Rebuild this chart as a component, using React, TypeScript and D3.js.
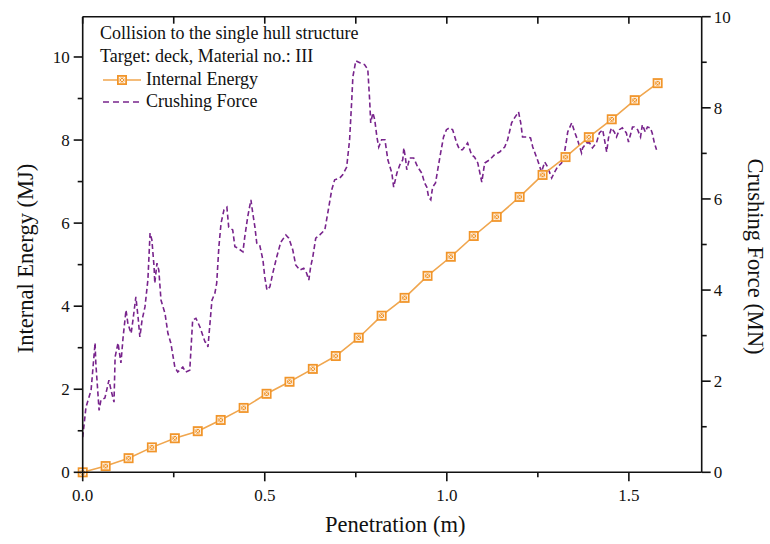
import React from "react";
import { scaleLinear, line } from "d3";

// internal energy (MJ) vs penetration (m) – left axis
const energyX = [0, 0.063, 0.126, 0.19, 0.253, 0.316, 0.379, 0.442, 0.505, 0.568, 0.632, 0.695, 0.758,
  0.821, 0.884, 0.947, 1.011, 1.074, 1.137, 1.2, 1.263, 1.326, 1.39, 1.453, 1.516, 1.579];
const energyY = [0, 0.15, 0.34, 0.6, 0.82, 0.99, 1.26, 1.55, 1.89, 2.18, 2.49, 2.8, 3.24,
  3.77, 4.2, 4.73, 5.19, 5.69, 6.15, 6.63, 7.16, 7.59, 8.07, 8.5, 8.96, 9.37];

// crushing force (MN) vs penetration (m) – right axis
const forceX = [0, 0.009, 0.023, 0.034, 0.036, 0.045, 0.05, 0.061, 0.072, 0.078, 0.086, 0.089, 0.097,
  0.105, 0.111, 0.119, 0.124, 0.13, 0.133, 0.138, 0.146, 0.152, 0.157, 0.163, 0.171, 0.179, 0.185,
  0.19, 0.196, 0.198, 0.204, 0.209, 0.215, 0.226, 0.234, 0.242, 0.253, 0.261, 0.275, 0.283, 0.294,
  0.302, 0.311, 0.322, 0.336, 0.341, 0.344, 0.355, 0.363, 0.368, 0.374, 0.38, 0.388, 0.396, 0.401,
  0.412, 0.418, 0.426, 0.44, 0.445, 0.453, 0.462, 0.467, 0.473, 0.478, 0.486, 0.495, 0.5, 0.506,
  0.514, 0.522, 0.533, 0.544, 0.558, 0.566, 0.577, 0.585, 0.596, 0.607, 0.615, 0.621, 0.626, 0.632,
  0.64, 0.651, 0.665, 0.673, 0.684, 0.692, 0.706, 0.714, 0.725, 0.733, 0.739, 0.742, 0.75, 0.761,
  0.774, 0.783, 0.788, 0.791, 0.797, 0.802, 0.808, 0.813, 0.821, 0.83, 0.838, 0.849, 0.854, 0.863,
  0.871, 0.879, 0.882, 0.887, 0.89, 0.898, 0.909, 0.92, 0.931, 0.939, 0.945, 0.95, 0.956, 0.961,
  0.969, 0.975, 0.983, 0.991, 0.999, 1.007, 1.016, 1.027, 1.035, 1.043, 1.057, 1.068, 1.076, 1.085,
  1.096, 1.104, 1.118, 1.131, 1.145, 1.159, 1.167, 1.178, 1.186, 1.197, 1.203, 1.208, 1.219, 1.23,
  1.236, 1.247, 1.252, 1.26, 1.269, 1.277, 1.288, 1.296, 1.304, 1.315, 1.321, 1.329, 1.332, 1.343,
  1.351, 1.359, 1.37, 1.373, 1.384, 1.392, 1.4, 1.411, 1.419, 1.428, 1.433, 1.439, 1.444, 1.452,
  1.46, 1.466, 1.474, 1.482, 1.493, 1.499, 1.51, 1.515, 1.524, 1.532, 1.537, 1.545, 1.551, 1.559,
  1.564, 1.57, 1.576];
const forceY = [0.77, 1.43, 1.8, 2.84, 2.4, 1.36, 1.58, 1.63, 2.02, 1.8, 1.54, 2.53, 2.84,
  2.4, 2.97, 3.56, 3.27, 3.12, 3.05, 3.34, 3.85, 3.41, 2.97, 3.34, 3.63, 4.22, 5.25,
  5.1, 4.51, 4.15, 4.59, 4.44, 3.78, 3.49, 3.05, 2.84, 2.31, 2.2, 2.31, 2.2, 2.24,
  3.34, 3.38, 3.19, 2.86, 2.84, 2.75, 3.78, 3.93, 4.15, 4.95, 5.47, 5.76, 5.82, 5.38,
  5.32, 4.95, 4.92, 4.84, 5.16, 5.6, 5.98, 5.69, 5.38, 5.03, 4.99, 4.66, 4.29, 4.0,
  4.07, 4.37, 4.73, 5.05, 5.21, 5.14, 4.88, 4.55, 4.44, 4.48, 4.37, 4.22, 4.51, 4.73,
  5.14, 5.21, 5.32, 5.69, 6.2, 6.42, 6.46, 6.53, 6.7, 7.3, 8.18, 8.68, 9.03, 8.99,
  8.95, 8.84, 8.18, 7.67, 7.89, 7.74, 7.36, 7.14, 7.3, 7.3, 6.86, 6.57, 6.26, 6.57,
  6.75, 6.86, 7.12, 6.86, 6.64, 6.9, 6.9, 6.7, 6.57, 6.35, 6.26, 6.04, 5.98, 6.26,
  6.35, 6.64, 7.01, 7.36, 7.52, 7.56, 7.52, 7.23, 7.08, 7.08, 7.23, 6.97, 6.92, 6.79,
  6.37, 6.79, 6.86, 6.97, 7.03, 7.14, 7.3, 7.67, 7.78, 7.91, 7.67, 7.36, 7.36, 7.34,
  7.14, 6.9, 6.79, 6.59, 6.81, 6.7, 6.46, 6.59, 6.7, 6.79, 6.92, 7.3, 7.47, 7.67,
  7.47, 7.3, 7.01, 7.12, 7.23, 7.23, 7.12, 7.23, 7.45, 7.52, 7.3, 7.03, 7.34, 7.56,
  7.47, 7.36, 7.52, 7.56, 7.45, 7.25, 7.58, 7.58, 7.52, 7.36, 7.63, 7.47, 7.58, 7.56,
  7.45, 7.23, 7.08];

const xMajor = [0, 0.5, 1.0, 1.5];
const xMinor = [0.25, 0.75, 1.25];
const leftMajor = [0, 2, 4, 6, 8, 10];
const leftMinor = [1, 3, 5, 7, 9];
const rightMajor = [0, 2, 4, 6, 8, 10];
const rightMinor = [1, 3, 5, 7, 9];

const legendLines = ["Collision to the single hull structure", "Target: deck, Material no.: III"];
const seriesNames = ["Internal Energy", "Crushing Force"];

const FONT = "'Liberation Serif', 'Times New Roman', serif";
const ORANGE = "#f0a64e";
const MARK = "#f1952a";
const PURPLE = "#78248c";

const left = 82.7, right = 701.7, top = 16.7, bottom = 472.3;

function Marker({ cx, cy }) {
  const s = 5, i = 2.8;
  return (
    <g transform={`translate(${cx},${cy})`}>
      <rect x={-s} y={-s} width={2 * s} height={2 * s} fill={MARK} />
      <rect x={-i} y={-i} width={2 * i} height={2 * i} fill="none" stroke="#fff" strokeWidth={0.8} />
      <path d={`M${-i},${-i}L${i},${i}M${-i},${i}L${i},${-i}`} stroke="#fff" strokeWidth={0.8} />
    </g>
  );
}

export default function App() {
  const x = scaleLinear().domain([0, 1.7]).range([left, right]);
  const yL = scaleLinear().domain([0, 10.97]).range([bottom, top]);
  const yR = scaleLinear().domain([0, 10]).range([bottom, top]);

  const energyPath = line<number>()
    .x((d, i) => x(energyX[i]))
    .y((d) => yL(d))(energyY);
  const forcePath = line<number>()
    .x((d, i) => x(forceX[i]))
    .y((d) => yR(d))(forceY);

  const txt = { fontFamily: FONT, fill: "#111" };

  return (
    <svg width={770} height={544} style={{ position: "absolute", left: 0, top: 0, background: "#fff" }}>
      {/* series */}
      <path d={forcePath} fill="none" stroke={PURPLE} strokeWidth={1.6} strokeDasharray="5,3" />
      <path d={energyPath} fill="none" stroke={ORANGE} strokeWidth={1.6} />
      {energyY.map((d, i) => (
        <Marker key={i} cx={x(energyX[i])} cy={yL(d)} />
      ))}

      {/* frame */}
      <g stroke="#111" strokeWidth={1.6} fill="none">
        <line x1={left} x2={right} y1={top} y2={top} />
        <line x1={left} x2={right} y1={bottom} y2={bottom} />
        <line x1={left} x2={left} y1={top} y2={bottom} />
        <line x1={right} x2={right} y1={top} y2={bottom} />
        {xMajor.map((t) => (
          <line key={"xb" + t} x1={x(t)} x2={x(t)} y1={bottom} y2={bottom + 9} />
        ))}
        {xMinor.map((t) => (
          <line key={"xm" + t} x1={x(t)} x2={x(t)} y1={bottom} y2={bottom + 5} />
        ))}
        {xMajor.concat(xMinor).map((t) => (
          <line key={"xt" + t} x1={x(t)} x2={x(t)} y1={top} y2={top + 7} />
        ))}
        {leftMajor.map((t) => (
          <line key={"lb" + t} x1={left - 9} x2={left} y1={yL(t)} y2={yL(t)} />
        ))}
        {leftMinor.map((t) => (
          <line key={"lm" + t} x1={left - 5} x2={left} y1={yL(t)} y2={yL(t)} />
        ))}
        {rightMajor.map((t) => (
          <line key={"rb" + t} x1={right} x2={right + 9} y1={yR(t)} y2={yR(t)} />
        ))}
        {rightMinor.map((t) => (
          <line key={"rm" + t} x1={right} x2={right + 5} y1={yR(t)} y2={yR(t)} />
        ))}
      </g>

      {/* tick labels */}
      {xMajor.map((t) => (
        <text key={"xl" + t} x={x(t)} y={bottom + 29} textAnchor="middle" fontSize={17} style={txt}>
          {t.toFixed(1)}
        </text>
      ))}
      {leftMajor.map((t) => (
        <text key={"ll" + t} x={left - 13} y={yL(t) + 6} textAnchor="end" fontSize={17} style={txt}>
          {t}
        </text>
      ))}
      {rightMajor.map((t) => (
        <text key={"rl" + t} x={right + 12} y={yR(t) + 6} textAnchor="start" fontSize={17} style={txt}>
          {t}
        </text>
      ))}

      {/* axis titles */}
      <text x={(left + right) / 2 + 3} y={532} textAnchor="middle" fontSize={22.5} style={txt}>
        Penetration (m)
      </text>
      <text transform={`translate(33,${(top + bottom) / 2 + 14}) rotate(-90)`} textAnchor="middle" fontSize={22.5} style={txt}>
        Internal Energy (MJ)
      </text>
      <text transform={`translate(748,${(top + bottom) / 2 + 12}) rotate(90)`} textAnchor="middle" fontSize={22.5} style={txt}>
        Crushing Force (MN)
      </text>

      {/* legend */}
      <g>
        <text x={100} y={39} fontSize={18} style={txt}>{legendLines[0]}</text>
        <text x={100} y={62} fontSize={18} style={txt}>{legendLines[1]}</text>
        <line x1={103} x2={141} y1={80} y2={80} stroke={ORANGE} strokeWidth={1.6} />
        <Marker cx={122} cy={80} />
        <text x={146} y={85} fontSize={18} style={txt}>{seriesNames[0]}</text>
        <line x1={103} x2={141} y1={102} y2={102} stroke={PURPLE} strokeWidth={1.5} strokeDasharray="6,4" />
        <text x={146} y={107} fontSize={18} style={txt}>{seriesNames[1]}</text>
      </g>
    </svg>
  );
}
